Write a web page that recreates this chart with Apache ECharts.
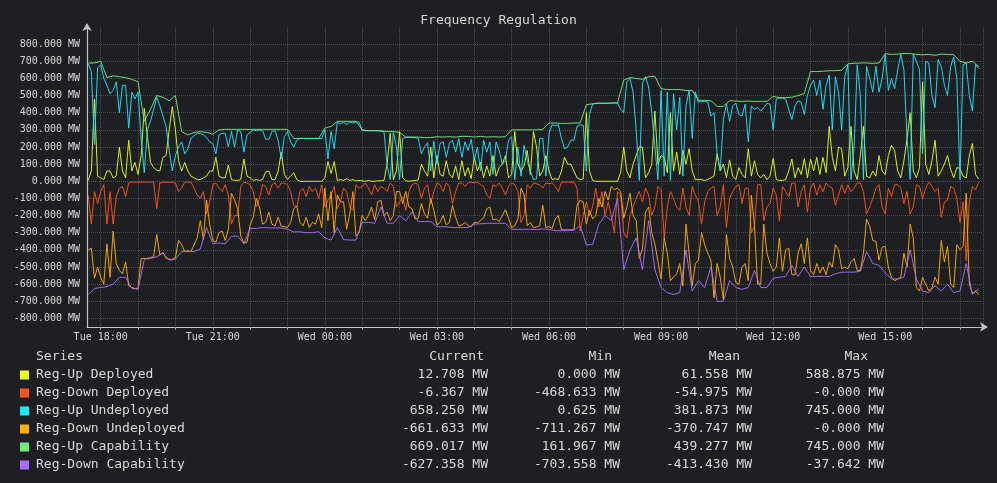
<!DOCTYPE html>
<html lang="en">
<head>
<meta charset="UTF-8">
<title>Frequency Regulation</title>
<style>
  html, body { margin: 0; padding: 0; background: #1e1f22; }
  #main { width: 997px; height: 483px; }
</style>
</head>
<body>
<div id="main"></div>
<script src="https://cdn.jsdelivr.net/npm/echarts@6/dist/echarts.min.js"></script>
<script>
// first sample Tue 17:40; capability every 10 min, deployed/undeployed every 5 min
var startTime = Date.UTC(2024, 0, 2, 17, 40);
var capStepMs = 10 * 60 * 1000;
var fineStepMs = 5 * 60 * 1000;

var upDeployed = [
  5, 60, 480, 30, 20, 10, 60, 60, 20, 30, 200, 60, 20, 240, 60, 110, 40, 150, 425, 260,
  110, 80, 65, 60, 140, 150, 300, 435, 300, 120, 60, 110, 60, 30, 20, 10, 10, 20, 30, 60,
  60, 140, 30, 20, 20, 95, 10, 5, 5, 10, 130, 30, 20, 5, 10, 5, 10, 55, 60, 10,
  10, 60, 170, 40, 10, 30, 50, 10, 0, 0, 0, 0, 0,
  0, 0, 0, 20, 115, 45, 115, 5, 10, 5, 15, 5, 10, 2, 5, 3, 0, 5, 0, 0,
  3, 3, 5, 100, 280, 10, 60, 290, 20, 3, 0, 3, 5, 8, 100, 60, 30, 200, 20, 150,
  40, 30, 120, 40, 20, 90, 10, 120, 30, 80, 15, 140, 60, 110, 20, 90, 30, 150, 30, 80,
  100, 150, 20, 40, 290, 100, 60, 90, 180, 40, 290, 200,
  30, 60, 150, 60, 10, 15, 10, 60, 140, 100, 100, 60, 20, 10, 15, 400, 60, 5, 0, 0,
  0, 0, 0, 0, 0, 0, 50, 200, 60, 20, 100, 150, 200, 200, 20, 50, 100, 410, 100, 150,
  140, 50, 400, 60, 170, 40, 180, 100, 190, 60, 10, 10, 10, 5, 10, 20, 30, 160, 60, 100,
  20, 125, 30, 10, 80, 40, 20, 190, 30, 120, 40, 20,
  40, 10, 30, 133, 10, 5, 5, 10, 60, 130, 20, 80, 40, 133, 20, 130, 60, 140, 40, 140,
  50, 320, 140, 60, 200, 190, 30, 80, 320, 60, 10, 150, 320, 30, 20, 60, 30, 150, 60, 40,
  150, 210, 180, 60, 20, 120, 250, 400, 60, 20, 80, 580, 100, 40, 120, 240, 30, 60, 100, 150,
  70, 20, 80, 75, 30, 20, 150, 220, 40, 13
];
var downDeployed = [
  -80, -250, -60, -130, -60, -20, -250, -60, -250, -90, -40, -30, -90, -10, -5, -5, -5, -5, -5, -5,
  -5, -5, -160, -10, -5, -5, -5, -5, -10, -60, -40, -5, -5, -5, -40, -80, -100, -60, -190, -120,
  -20, -10, -40, -60, -20, -80, -250, -200, -200, -30, -5, -10, -20, -60, -150, -100, -20, -30, -80, -20,
  -10, -40, -10, -10, -20, -60, -140, -150, -60, -40, -90, -30, -60,
  -40, -100, -20, -150, -110, -80, -30, -160, -120, -40, -60, -150, -170, -20, -40, -30, -10, -40, -80, -20,
  -60, -30, -40, -60, -10, -30, -150, -120, -90, -170, -60, -20, -10, -20, -100, -40, -20, -130, -60, -10,
  -20, -60, -10, -30, -130, -60, -10, -10, -30, -10, -5, -10, -5, -20, -30, -80, -100, -20, -30, -10,
  -40, -80, -30, -10, -20, -60, -240, -200, -20, -40, -10, -15,
  -20, -40, -10, -15, -10, -30, -60, -5, -5, -5, -5, -5, -40, -290, -200, -120, -200, -150, -40, -150,
  -60, -200, -120, -200, -300, -60, -80, -300, -330, -200, -150, -100, -60, -120, -40, -80, -200, -150, -30, -50,
  -330, -150, -60, -100, -150, -170, -40, -150, -200, -30, -80, -120, -250, -120, -60, -40, -30, -200, -150, -20,
  -270, -100, -60, -30, -20, -130, -40, -40, -300, -260, -20, -20,
  -230, -150, -130, -40, -80, -230, -30, -60, -90, -10, -10, -150, -60, -20, -180, -40, -10, -80, -20, -60,
  -10, -30, -40, -140, -80, -20, -70, -20, -60, -40, -10, -10, -60, -190, -150, -100, -40, -20, -150, -190,
  -40, -90, -20, -20, -40, -130, -60, -190, -150, -20, -30, -100, -40, -5, -30, -60, -40, -210, -120, -110,
  -30, -40, -100, -240, -120, -465, -120, -30, -50, -6
];
var upUndeployed = [
  685, 640, 215, 660, 680, 600, 560, 510, 530, 580, 400, 560, 560, 310, 520, 480, 520, 250, 50, 300,
  350, 420, 490, 440, 380, 320, 180, 60, 150, 200, 230, 160, 190, 250, 265, 280, 280, 270, 255, 230,
  220, 160, 270, 280, 280, 200, 290, 200, 300, 290, 170, 270, 285, 300, 295, 300, 295, 245, 245, 290,
  295, 240, 130, 260, 290, 230, 200, 240, 250, 250, 250, 250, 250,
  250, 250, 250, 300, 130, 290, 190, 345, 335, 345, 330, 345, 340, 348, 345, 297, 295, 295, 295, 295,
  295, 292, 290, 90, 10, 285, 200, 10, 250, 255, 257, 255, 255, 250, 160, 200, 225, 60, 235, 100,
  220, 230, 140, 220, 240, 170, 250, 140, 230, 180, 245, 120, 200, 60, 240, 170, 230, 40, 230, 180,
  100, 120, 240, 260, 10, 200, 30, 210, 120, 60, 10, 15,
  250, 250, 30, 280, 330, 325, 330, 250, 190, 200, 240, 240, 320, 330, 325, 60, 390, 450, 455, 455,
  455, 455, 456, 456, 457, 457, 420, 400, 580, 600, 520, 300, 5, 570, 610, 550, 400, 200, 10, 530,
  30, 520, 5, 510, 300, 490, 30, 440, 530, 250, 520, 462, 465, 467, 462, 380, 400, 160, 60, 360,
  450, 350, 440, 455, 390, 380, 450, 230, 440, 420, 430, 410,
  430, 455, 450, 300, 480, 485, 485, 480, 420, 360, 440, 470, 460, 390, 500, 560, 590, 500, 590, 420,
  560, 620, 300, 610, 520, 300, 610, 680, 10, 200, 680, 500, 10, 670, 600, 520, 670, 520, 600, 740,
  530, 600, 540, 650, 740, 650, 250, 10, 740, 700, 650, 160, 700, 690, 500, 430, 710, 670, 560, 500,
  670, 725, 600, 10, 680, 690, 500, 410, 680, 658
];
var downUndeployed = [
  -400, -390, -565, -500, -560, -600, -365, -560, -290, -480, -520, -540, -470, -610, -620, -625, -625, -450, -450, -450,
  -445, -440, -310, -430, -415, -450, -455, -455, -445, -345, -370, -410, -405, -410, -370, -330, -230, -340, -110, -250,
  -345, -355, -300, -290, -345, -280, -70, -110, -160, -320, -360, -355, -255, -210, -100, -150, -250, -240, -180, -250,
  -260, -210, -262, -265, -270, -240, -160, -145, -240, -260, -210, -270, -240,
  -250, -190, -270, -40, -230, -60, -300, -80, -120, -120, -280, -190, -60, -320, -300, -200, -230, -200, -150, -225,
  -120, -110, -200, -180, -230, -200, -60, -60, -130, -60, -150, -160, -220, -215, -130, -190, -215, -100, -170, -255,
  -240, -200, -255, -240, -140, -210, -260, -255, -240, -260, -265, -240, -243, -228, -215, -160, -150, -225, -220, -235,
  -200, -165, -215, -270, -260, -220, -40, -80, -260, -240, -270, -267,
  -260, -140, -270, -265, -275, -220, -200, -283, -283, -283, -283, -283, -140, -110, -120, -250, -170, -220, -200, -100,
  -150, -60, -110, -30, -50, -40, -60, -215, -150, -70, -200, -230, -450, -395, -180, -150, -300, -365, -470, -570,
  -330, -420, -580, -560, -540, -480, -610, -250, -420, -610, -480, -460, -300, -370, -420, -460, -680, -480, -560, -690,
  -310, -450, -500, -590, -600, -500, -480, -580, -80, -260, -600, -600,
  -250, -420, -480, -525, -500, -330, -525, -400, -390, -545, -545, -420, -365, -480, -330, -520, -545, -480, -535, -500,
  -545, -470, -500, -370, -400, -510, -500, -510, -470, -450, -520, -520, -420, -220, -260, -345, -350, -460, -385, -380,
  -500, -560, -580, -570, -560, -420, -500, -250, -330, -620, -640, -560, -600, -640, -620, -560, -600, -345, -470, -380,
  -600, -620, -370, -400, -380, -70, -600, -655, -640, -662
];
var upCapability = [
  690, 690, 700, 605, 615, 610, 605, 595, 580, 350, 420, 500, 490, 470, 500, 290, 270, 285, 290, 285, 275, 300, 303, 303, 303, 303, 303, 303, 303, 303, 303, 303, 303, 250, 250, 250, 250,
  250, 310, 320, 350, 350, 350, 350, 300, 295, 295, 295, 290, 290, 285, 258, 258, 258, 255, 255, 260, 258, 260, 258, 262, 262, 258, 262, 258, 260, 258, 260, 300, 300, 300, 300, 300,
  303, 340, 340, 338, 338, 340, 340, 447, 452, 455, 455, 456, 457, 590, 605, 600, 595, 610, 612, 540, 535, 535, 535, 530, 530, 472, 472, 470, 437, 437, 470, 468, 466, 468, 466, 466,
  466, 495, 488, 488, 490, 500, 512, 640, 640, 642, 645, 645, 648, 685, 688, 690, 690, 688, 690, 745, 740, 742, 745, 745, 740, 738, 740, 735, 742, 740, 738, 700, 690, 700, 669
];
var downCapability = [
  -660, -625, -620, -615, -600, -560, -560, -625, -630, -455, -450, -440, -420, -460, -455, -410, -410, -410, -395, -270, -363, -360, -365, -320, -320, -365, -275, -275, -270, -272, -272, -272, -280, -295, -295, -300, -300,
  -294, -330, -343, -270, -340, -343, -343, -240, -240, -245, -150, -245, -245, -200, -230, -180, -235, -235, -235, -265, -265, -268, -270, -270, -270, -250, -248, -245, -245, -245, -245, -280, -280, -280, -280, -282,
  -278, -280, -288, -288, -288, -285, -260, -370, -370, -250, -200, -230, -100, -515, -400, -330, -515, -230, -515, -620, -650, -660, -650, -400, -640, -580, -620, -500, -700, -700, -580, -620, -630, -620, -520, -620,
  -620, -565, -560, -555, -490, -555, -500, -555, -555, -555, -555, -540, -530, -530, -530, -525, -410, -480, -490, -535, -570, -570, -560, -400, -570, -640, -650, -610, -640, -600, -650, -640, -480, -660, -627
];

var seriesNames = ['Reg-Up Deployed', 'Reg-Down Deployed', 'Reg-Up Undeployed',
  'Reg-Down Undeployed', 'Reg-Up Capability', 'Reg-Down Capability'];
var seriesColors = ['#e6ff1e', '#ff5518', '#1ee6ff', '#ffb000', '#72ea82', '#ac6cff'];
var seriesValues = [upDeployed, downDeployed, upUndeployed, downUndeployed, upCapability, downCapability];
var seriesSteps = [fineStepMs, fineStepMs, fineStepMs, fineStepMs, capStepMs, capStepMs];

// summary table as printed under the chart
var statCurrent = ['12.708 MW', '-6.367 MW', '658.250 MW', '-661.633 MW', '669.017 MW', '-627.358 MW'];
var statMin = ['0.000 MW', '-468.633 MW', '0.625 MW', '-711.267 MW', '161.967 MW', '-703.558 MW'];
var statMean = ['61.558 MW', '-54.975 MW', '381.873 MW', '-370.747 MW', '439.277 MW', '-413.430 MW'];
var statMax = ['588.875 MW', '-0.000 MW', '745.000 MW', '-0.000 MW', '745.000 MW', '-37.642 MW'];

var mono = 'DejaVu Sans Mono';
var textCol = '#d8d8d8';
var gridCol = '#4e4f52';

var myChart = echarts.init(document.getElementById('main'));

var series = seriesNames.map(function (name, k) {
  return {
    name: name,
    type: 'line',
    symbol: 'none',
    data: seriesValues[k].map(function (v, i) { return [startTime + i * seriesSteps[k], v]; }),
    lineStyle: { width: 1, color: seriesColors[k], opacity: 0.92 },
    itemStyle: { color: seriesColors[k] },
    z: 2 + k
  };
});

// only every other y split line (the 100 MW ones) is drawn
var ySplitColors = [];
for (var i = 0; i < 36; i++) {
  ySplitColors.push(i % 2 === 1 && i <= 33 ? gridCol : 'rgba(0,0,0,0)');
}

var days = ['Sun', 'Mon', 'Tue', 'Wed', 'Thu', 'Fri', 'Sat'];
function pad(n) { return n < 10 ? '0' + n : '' + n; }

// legend + stats table
var font13 = '13px ' + mono;
var graphics = [
  { type: 'text', left: 'center', top: 14, style: { text: 'Frequency Regulation', fill: textCol, font: font13 } },
  { type: 'text', x: 36, y: 357, style: { text: 'Series', fill: textCol, font: font13, textVerticalAlign: 'middle' } },
  { type: 'text', x: 484, y: 357, style: { text: 'Current', fill: textCol, font: font13, textAlign: 'right', textVerticalAlign: 'middle' } },
  { type: 'text', x: 612, y: 357, style: { text: 'Min', fill: textCol, font: font13, textAlign: 'right', textVerticalAlign: 'middle' } },
  { type: 'text', x: 740, y: 357, style: { text: 'Mean', fill: textCol, font: font13, textAlign: 'right', textVerticalAlign: 'middle' } },
  { type: 'text', x: 868, y: 357, style: { text: 'Max', fill: textCol, font: font13, textAlign: 'right', textVerticalAlign: 'middle' } }
];
seriesNames.forEach(function (name, k) {
  var y = 375 + k * 18;
  graphics.push({ type: 'rect', shape: { x: 20, y: y - 4.5, width: 9, height: 9 }, style: { fill: seriesColors[k] } });
  graphics.push({ type: 'text', x: 36, y: y, style: { text: name, fill: textCol, font: font13, textVerticalAlign: 'middle' } });
  [[statCurrent, 488], [statMin, 620], [statMean, 752], [statMax, 884]].forEach(function (col) {
    graphics.push({ type: 'text', x: col[1], y: y, style: { text: col[0][k], fill: textCol, font: font13, textAlign: 'right', textVerticalAlign: 'middle' } });
  });
});

var option = {
  backgroundColor: '#1e1f22',
  animation: false,
  useUTC: true,
  grid: { left: 87, right: 14, top: 27, height: 300 },
  xAxis: {
    type: 'time',
    min: Date.UTC(2024, 0, 2, 17, 38),
    max: Date.UTC(2024, 0, 3, 17, 37),
    minInterval: 3600 * 1000,
    maxInterval: 3600 * 1000,
    axisLine: { onZero: false, lineStyle: { color: '#c4c4c4', width: 1.2 }, symbol: ['none', 'arrow'], symbolSize: [7, 8], symbolOffset: [0, 5] },
    axisTick: { show: true, length: 3, lineStyle: { color: '#9a9a9a' } },
    axisLabel: {
      color: textCol, fontFamily: mono, fontSize: 10, margin: 5,
      showMinLabel: false, showMaxLabel: false, hideOverlap: false,
      formatter: function (value) {
        var d = new Date(value);
        if (d.getUTCMinutes() !== 0 || d.getUTCHours() % 3 !== 0) return '';
        return days[d.getUTCDay()] + ' ' + pad(d.getUTCHours()) + ':00';
      }
    },
    splitLine: { show: true, lineStyle: { color: gridCol, type: 'dotted' } }
  },
  yAxis: {
    type: 'value',
    min: -850,
    max: 900,
    interval: 50,
    axisLine: { show: true, lineStyle: { color: '#c4c4c4', width: 1.2 }, symbol: ['none', 'arrow'], symbolSize: [7, 8], symbolOffset: [0, 4] },
    axisTick: { show: false },
    axisLabel: {
      color: textCol, fontFamily: mono, fontSize: 10, margin: 7,
      formatter: function (v) {
        return (v % 100 === 0 && Math.abs(v) <= 800) ? v.toFixed(3) + ' MW' : '';
      }
    },
    splitLine: { show: true, lineStyle: { color: ySplitColors, type: 'dotted' } }
  },
  series: series,
  graphic: graphics
};

myChart.setOption(option);
</script>
</body>
</html>
